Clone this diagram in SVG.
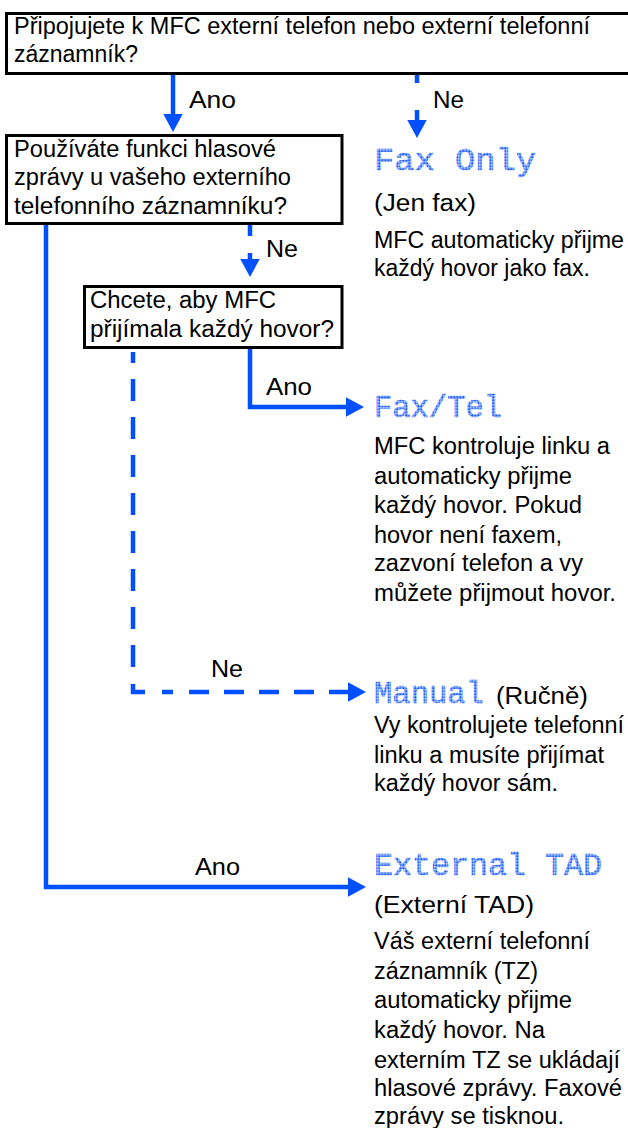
<svg xmlns="http://www.w3.org/2000/svg" width="628" height="1128" viewBox="0 0 628 1128">
<style>
.box{fill:#fff;stroke:#000;stroke-width:3}
.t{font-family:"Liberation Sans",Arial,sans-serif;font-size:23.5px;fill:#000}
.lcd{font-family:"Liberation Mono","DejaVu Sans Mono",monospace;font-size:31px;fill:url(#dots);stroke:url(#dots);stroke-width:0.6}
.c{fill:none;stroke:#0050ff;stroke-width:4.5}
</style>
<defs>
<pattern id="dots" patternUnits="userSpaceOnUse" width="3" height="3">
<rect x="0.2" y="0.2" width="2.4" height="2.4" fill="#1f5fff"/>
</pattern>
<marker id="ah" markerUnits="userSpaceOnUse" markerWidth="19" markerHeight="20" refX="0.5" refY="10" orient="auto" viewBox="0 0 19 20">
<path d="M0,0 L18.5,10 L0,20 z" fill="#0050ff"/>
</marker>
</defs>
<rect width="628" height="1128" fill="#fff"/>
<g id="connectors">
<path class="c" d="M173,75 V114" marker-end="url(#ah)"/>
<path class="c" d="M417,75 V120" style="stroke-dasharray:8 27 20" marker-end="url(#ah)"/>
<path class="c" d="M250,225 V259" style="stroke-dasharray:11 17 20" marker-end="url(#ah)"/>
<path class="c" d="M250,349 V407 H346" marker-end="url(#ah)"/>
<path class="c" d="M133,352 V692 H348" style="stroke-dasharray:11 16 22 16 22 16 22 16 22 16 22 16 22 16 22 16 22 17 20 17 11 16 20 15 20 15 20 15 20 15 20 15 20 15" marker-end="url(#ah)"/>
<path class="c" d="M46,225 V887 H348" marker-end="url(#ah)"/>
<text class="t" x="189" y="108" textLength="47" lengthAdjust="spacingAndGlyphs">Ano</text>
<text class="t" x="433" y="108" textLength="31" lengthAdjust="spacingAndGlyphs">Ne</text>
<text class="t" x="266" y="257" textLength="32" lengthAdjust="spacingAndGlyphs">Ne</text>
<text class="t" x="266" y="395" textLength="46" lengthAdjust="spacingAndGlyphs">Ano</text>
<text class="t" x="211" y="677" textLength="32" lengthAdjust="spacingAndGlyphs">Ne</text>
<text class="t" x="195" y="875" textLength="45" lengthAdjust="spacingAndGlyphs">Ano</text>
</g>
<g id="q1">
<rect class="box" x="6.5" y="13.5" width="630" height="60"/>
<text class="t" x="14" y="34" textLength="576" lengthAdjust="spacingAndGlyphs">Připojujete k MFC externí telefon nebo externí telefonní</text>
<text class="t" x="14" y="62" textLength="124" lengthAdjust="spacingAndGlyphs">záznamník?</text>
</g>
<g id="q2">
<rect class="box" x="6.5" y="135.5" width="335.5" height="88"/>
<text class="t" x="14" y="157" textLength="262" lengthAdjust="spacingAndGlyphs">Používáte funkci hlasové</text>
<text class="t" x="14" y="185" textLength="277" lengthAdjust="spacingAndGlyphs">zprávy u vašeho externího</text>
<text class="t" x="14" y="214" textLength="273" lengthAdjust="spacingAndGlyphs">telefonního záznamníku?</text>
</g>
<g id="q3">
<rect class="box" x="84.5" y="286.5" width="257.5" height="61"/>
<text class="t" x="90" y="308" textLength="186" lengthAdjust="spacingAndGlyphs">Chcete, aby MFC</text>
<text class="t" x="90" y="337" textLength="244" lengthAdjust="spacingAndGlyphs">přijímala každý hovor?</text>
</g>
<g id="faxonly">
<text class="lcd" x="374" y="170" textLength="162" lengthAdjust="spacingAndGlyphs">Fax Only</text>
<text class="t" x="374" y="211" textLength="102" lengthAdjust="spacingAndGlyphs">(Jen fax)</text>
<text class="t" x="374" y="248" textLength="250" lengthAdjust="spacingAndGlyphs">MFC automaticky přijme</text>
<text class="t" x="374" y="276" textLength="216" lengthAdjust="spacingAndGlyphs">každý hovor jako fax.</text>
</g>
<g id="faxtel">
<text class="lcd" x="374" y="417" textLength="128" lengthAdjust="spacingAndGlyphs">Fax/Tel</text>
<text class="t" x="374" y="454" textLength="236" lengthAdjust="spacingAndGlyphs">MFC kontroluje linku a</text>
<text class="t" x="374" y="484" textLength="198" lengthAdjust="spacingAndGlyphs">automaticky přijme</text>
<text class="t" x="374" y="513" textLength="208" lengthAdjust="spacingAndGlyphs">každý hovor. Pokud</text>
<text class="t" x="374" y="543" textLength="188" lengthAdjust="spacingAndGlyphs">hovor není faxem,</text>
<text class="t" x="374" y="571" textLength="209" lengthAdjust="spacingAndGlyphs">zazvoní telefon a vy</text>
<text class="t" x="374" y="601" textLength="242" lengthAdjust="spacingAndGlyphs">můžete přijmout hovor.</text>
</g>
<g id="manual">
<text class="lcd" x="374" y="703" textLength="110" lengthAdjust="spacingAndGlyphs">Manual</text>
<text class="t" x="496" y="704" textLength="92" lengthAdjust="spacingAndGlyphs">(Ručně)</text>
<text class="t" x="374" y="733" textLength="250" lengthAdjust="spacingAndGlyphs">Vy kontrolujete telefonní</text>
<text class="t" x="374" y="763" textLength="230" lengthAdjust="spacingAndGlyphs">linku a musíte přijímat</text>
<text class="t" x="374" y="791" textLength="184" lengthAdjust="spacingAndGlyphs">každý hovor sám.</text>
</g>
<g id="externaltad">
<text class="lcd" x="374" y="875" textLength="228" lengthAdjust="spacingAndGlyphs">External TAD</text>
<text class="t" x="374" y="913" textLength="160" lengthAdjust="spacingAndGlyphs">(Externí TAD)</text>
<text class="t" x="374" y="949" textLength="216" lengthAdjust="spacingAndGlyphs">Váš externí telefonní</text>
<text class="t" x="374" y="979" textLength="164" lengthAdjust="spacingAndGlyphs">záznamník (TZ)</text>
<text class="t" x="374" y="1008" textLength="198" lengthAdjust="spacingAndGlyphs">automaticky přijme</text>
<text class="t" x="374" y="1038" textLength="171" lengthAdjust="spacingAndGlyphs">každý hovor. Na</text>
<text class="t" x="374" y="1068" textLength="246" lengthAdjust="spacingAndGlyphs">externím TZ se ukládají</text>
<text class="t" x="374" y="1096" textLength="248" lengthAdjust="spacingAndGlyphs">hlasové zprávy. Faxové</text>
<text class="t" x="374" y="1124" textLength="190" lengthAdjust="spacingAndGlyphs">zprávy se tisknou.</text>
</g>
</svg>
